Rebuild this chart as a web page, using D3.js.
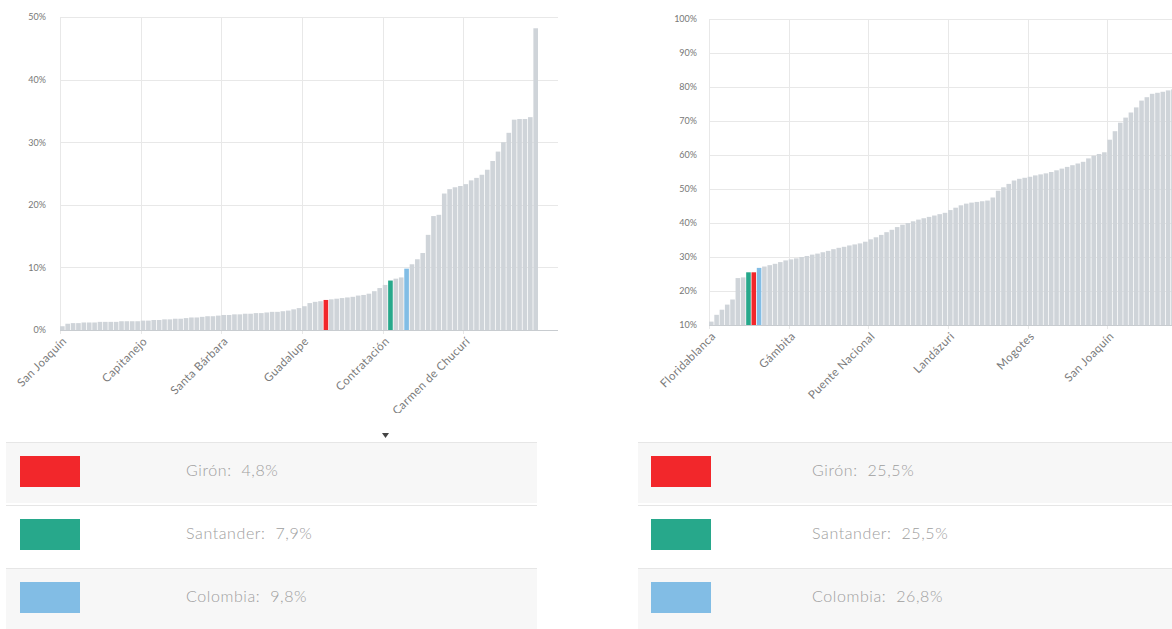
<!DOCTYPE html>
<html>
<head>
<meta charset="utf-8">
<script src="https://cdn.jsdelivr.net/npm/d3@7"></script>
<style>
  html, body { margin: 0; padding: 0; background: #fff; }
  svg { display: block; }
  text { font-family: Lato, "Open Sans", sans-serif; }
</style>
</head>
<body>
<svg id="chart" width="1172" height="629"></svg>
<script>
// ---------- DATA ----------
// Left chart: sorted municipality values (%), 89 bars
const leftValues = [
  0.6, 1.0, 1.1, 1.1, 1.2, 1.2, 1.2, 1.3, 1.3, 1.3, 1.3, 1.4, 1.4, 1.4, 1.4,
  1.5, 1.5, 1.6, 1.6, 1.7, 1.7, 1.8, 1.8, 1.9, 2.0, 2.0, 2.1, 2.2, 2.2, 2.3,
  2.4, 2.4, 2.5, 2.5, 2.6, 2.6, 2.7, 2.7, 2.8, 2.9, 2.9, 3.0, 3.1, 3.3, 3.5,
  3.8, 4.3, 4.5, 4.6, 4.8, 4.9, 5.0, 5.1, 5.2, 5.3, 5.5, 5.6, 5.8, 6.2, 6.7,
  7.2, 7.9, 8.2, 8.4, 9.8, 10.5, 11.3, 12.3, 15.2, 18.2, 18.4, 21.8, 22.5, 22.8, 23.0,
  23.3, 23.9, 24.3, 24.8, 25.6, 27.0, 28.5, 30.0, 31.5, 33.6, 33.7, 33.7, 34.0, 48.2
];
const leftTickLabels = ["San Joaquín", "Capitanejo", "Santa Bárbara", "Guadalupe", "Contratación", "El Carmen de Chucurí"];
const leftHighlightIdx = [49, 61, 64];   // Girón, Santander, Colombia
const leftYTicks = [0, 10, 20, 30, 40, 50];

// Right chart: sorted municipality values (%), 89 bars
const rightValues = [
  11.0, 13.0, 14.5, 16.0, 17.5, 23.8, 24.0, 25.5, 25.5, 26.8,
  27.2, 27.6, 28.0, 28.5, 29.0, 29.3, 29.6, 30.0, 30.3, 30.7,
  31.0, 31.4, 31.8, 32.3, 32.7, 33.0, 33.4, 33.7, 34.0, 34.5,
  35.2, 35.8, 36.5, 37.3, 38.0, 38.8, 39.5, 40.0, 40.5, 41.0,
  41.4, 41.8, 42.2, 42.6, 43.0, 43.8, 44.5, 45.2, 45.7, 46.0,
  46.2, 46.4, 46.6, 47.5, 49.5, 50.5, 51.5, 52.5, 53.0, 53.3,
  53.6, 54.0, 54.3, 54.6, 55.0, 55.5, 56.0, 56.5, 57.0, 57.5,
  58.0, 59.0, 59.8, 60.3, 60.8, 64.5, 67.0, 69.5, 71.0, 72.5,
  74.0, 76.0, 77.0, 78.0, 78.3, 78.6, 79.0, 79.3, 80.0
];
const rightTickLabels = ["Floridablanca", "Gámbita", "Puente Nacional", "Landázuri", "Mogotes", "San Joaquín"];
const rightHighlightIdx = [8, 7, 9];     // Girón, Santander, Colombia
const rightYTicks = [10, 20, 30, 40, 50, 60, 70, 80, 90, 100];

const legendNames = ["Girón", "Santander", "Colombia"];
const leftLegendValues = ["4,8%", "7,9%", "9,8%"];
const rightLegendValues = ["25,5%", "25,5%", "26,8%"];
const highlightColors = ["#f2272b", "#27a88b", "#82bde5"];
const tickEvery = 15;

// ---------- DRAW ----------
const svg = d3.select("#chart");
const barColor = "#cfd4d9";
const gridColor = "#e8e8e8";

svg.append("defs").append("clipPath").attr("id", "labelClip")
  .append("rect").attr("x", 0).attr("y", 0).attr("width", 1172).attr("height", 413);

function drawChart(cfg) {
  const g = svg.append("g");
  const idx = d3.range(cfg.values.length);
  const x = d3.scaleBand().domain(idx).range([cfg.x0, cfg.x1]).paddingInner(0.14).paddingOuter(0);
  const y = d3.scaleLinear().domain(cfg.yDomain).range([cfg.yBottom, cfg.yTop]);
  const step = x.step();

  // horizontal grid
  g.append("g").selectAll("line").data(cfg.yTicks).join("line")
    .attr("x1", cfg.x0).attr("x2", cfg.x1 + 20)
    .attr("y1", d => Math.round(y(d)) + 0.5).attr("y2", d => Math.round(y(d)) + 0.5)
    .attr("stroke", gridColor).attr("stroke-width", 1);

  // vertical grid at tick categories
  const tickIdx = idx.filter(i => i % tickEvery === 0);
  g.append("g").selectAll("line").data(tickIdx).join("line")
    .attr("x1", i => Math.round(cfg.x0 + i * step) + 0.5).attr("x2", i => Math.round(cfg.x0 + i * step) + 0.5)
    .attr("y1", cfg.yTop).attr("y2", cfg.yBottom + 4)
    .attr("stroke", gridColor).attr("stroke-width", 1);

  // bars
  g.append("g").selectAll("rect").data(cfg.values).join("rect")
    .attr("x", (d, i) => x(i))
    .attr("width", x.bandwidth())
    .attr("y", d => y(d))
    .attr("height", d => y(cfg.yDomain[0]) - y(d))
    .attr("fill", (d, i) => {
      const k = cfg.highlight.indexOf(i);
      return k >= 0 ? highlightColors[k] : barColor;
    });

  // baseline
  g.append("line").attr("x1", cfg.x0).attr("x2", cfg.x1 + 20)
    .attr("y1", cfg.yBottom + 0.5).attr("y2", cfg.yBottom + 0.5)
    .attr("stroke", "#c8ccd0");

  // y axis labels
  const yAxis = d3.axisLeft(y).tickValues(cfg.yTicks).tickFormat(d => d + "%").tickSize(0).tickPadding(0);
  const ya = g.append("g").attr("transform", `translate(${cfg.yLabelX},0)`).call(yAxis);
  ya.select(".domain").remove();
  ya.selectAll("text").attr("font-size", 9).attr("fill", "#777").attr("font-family", "Lato, sans-serif");

  // x labels (rotated)
  g.append("g").attr("clip-path", "url(#labelClip)").selectAll("text").data(tickIdx).join("text")
    .attr("transform", i => `translate(${x(i) + x.bandwidth() / 2 + 5},${cfg.yBottom + 12}) rotate(-45)`)
    .attr("text-anchor", "end")
    .attr("font-size", 11.5).attr("letter-spacing", 0.4).attr("fill", "#7a7a7a")
    .text((i, k) => cfg.tickLabels[k]);
}

drawChart({
  values: leftValues, x0: 60, x1: 538, yTop: 17, yBottom: 330, yDomain: [0, 50],
  yTicks: leftYTicks, yLabelX: 46, tickLabels: leftTickLabels, highlight: leftHighlightIdx
});
drawChart({
  values: rightValues, x0: 709, x1: 1181, yTop: 19, yBottom: 325, yDomain: [10, 100],
  yTicks: rightYTicks, yLabelX: 697, tickLabels: rightTickLabels, highlight: rightHighlightIdx
});

// small pointer mark above left legend
svg.append("path").attr("d", "M382,433 L389,433 L385.5,438 Z").attr("fill", "#444");

// ---------- LEGENDS ----------
function drawLegend(lx0, lx1, swX, textX, values) {
  const rowTops = [442, 505, 568];
  const rowH = 61;
  const g = svg.append("g");
  legendNames.forEach((name, k) => {
    const top = rowTops[k];
    g.append("rect").attr("x", lx0).attr("y", top).attr("width", lx1 - lx0).attr("height", rowH)
      .attr("fill", k === 1 ? "#ffffff" : "#f7f7f7");
    g.append("line").attr("x1", lx0).attr("x2", lx1).attr("y1", top + 0.5).attr("y2", top + 0.5)
      .attr("stroke", "#e6e6e6");
    g.append("rect").attr("x", swX).attr("y", top + 14).attr("width", 60).attr("height", 31)
      .attr("fill", highlightColors[k]);
    g.append("text").attr("x", textX).attr("y", top + 30).attr("dominant-baseline", "middle")
      .attr("font-size", 16).attr("letter-spacing", 0.6).attr("fill", "#9e9e9e")
      .attr("font-weight", 300)
      .text(name + ":\u00a0\u00a0" + values[k]);
  });
}
drawLegend(6, 537, 20, 186, leftLegendValues);
drawLegend(638, 1172, 651, 812, rightLegendValues);
</script>
</body>
</html>
